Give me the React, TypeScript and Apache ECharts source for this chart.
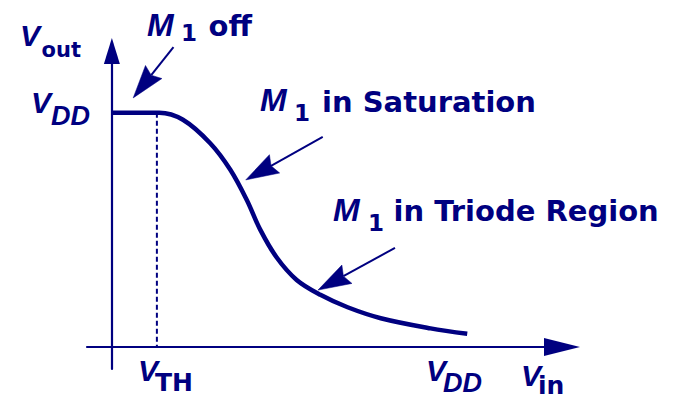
import React, { useEffect, useRef } from 'react';
import * as echarts from 'echarts';

const NAVY = '#000080';

// Transfer characteristic of the common-source stage (arbitrary volts)
const VDD = 3.0;
const VTH = 0.38;
const vinValues = [0, 0.4, 0.6, 0.83, 1.0, 1.14, 1.25, 1.39, 1.56, 1.76, 1.99, 2.27, 2.69, 3.0];
const voutValues = [3.0, 3.0, 2.91, 2.61, 2.27, 1.88, 1.51, 1.15, 0.86, 0.67, 0.51, 0.37, 0.24, 0.17];

// Axis extents (value units)
const xRange = [-0.21, 3.8];
const yRange = [-0.28, 3.79];

// Annotation arrows (value units): tail -> tip
const arrowTails = [[0.52, 3.84], [1.78, 2.69], [2.39, 1.27]];
const arrowTips = [[0.18, 3.19], [1.13, 2.14], [1.74, 0.73]];

// Texts
const deviceName = 'M';
const deviceIndex = '1';
const regionLabels = ['off', 'in Saturation', 'in Triode Region'];
const axisNames = ['out', 'in'];
const tickSubscripts = ['TH', 'DD'];
const voltSymbol = 'V';

const ITALIC = 'italic bold 30px "Liberation Sans"';
const MFONT = 'italic bold 32px "Liberation Sans"';
const SUB = 'bold 23px "DejaVu Sans"';
const TXT = 'bold 29px "DejaVu Sans"';
const DDFONT = 'italic bold 27px "Liberation Sans"';

function txt(text: string, x: number, y: number, font: string) {
  return {
    type: 'text',
    x,
    y,
    silent: true,
    style: { text, font, fill: NAVY, align: 'left', verticalAlign: 'middle' },
  };
}

function arrowGraphic(tail: number[], tip: number[]) {
  const L = 33;
  const W = 21;
  const notch = 4;
  const dx = tip[0] - tail[0];
  const dy = tip[1] - tail[1];
  const len = Math.sqrt(dx * dx + dy * dy) || 1;
  const ux = dx / len;
  const uy = dy / len;
  const nx = -uy;
  const ny = ux;
  const bx = tip[0] - ux * L;
  const by = tip[1] - uy * L;
  const mx = tip[0] - ux * (L - notch);
  const my = tip[1] - uy * (L - notch);
  return [
    {
      type: 'line',
      silent: true,
      shape: { x1: tail[0], y1: tail[1], x2: mx, y2: my },
      style: { stroke: NAVY, lineWidth: 2 },
    },
    {
      type: 'polygon',
      silent: true,
      shape: {
        points: [
          [tip[0], tip[1]],
          [bx + (nx * W) / 2, by + (ny * W) / 2],
          [mx, my],
          [bx - (nx * W) / 2, by - (ny * W) / 2],
        ],
      },
      style: { fill: NAVY, stroke: NAVY, lineWidth: 0.5 },
    },
  ];
}

export default function App() {
  const ref = useRef<HTMLDivElement>(null);
  useEffect(() => {
    document.body.style.margin = '0';
    if (!ref.current) return;
    const chart = echarts.init(ref.current, undefined, { renderer: 'svg' });
    const texts = [
      // V_out
      txt(voltSymbol, 20, 35.6, ITALIC),
      txt(axisNames[0], 41.5, 50, 'bold 21px "DejaVu Sans"'),
      // V_DD (y axis)
      txt(voltSymbol, 31, 102, ITALIC),
      txt(tickSubscripts[1], 51, 116, DDFONT),
      // M1 off
      txt(deviceName, 147, 25, MFONT),
      txt(deviceIndex, 181, 33.4, SUB),
      txt(regionLabels[0], 208.5, 26, TXT),
      // M1 in Saturation
      txt(deviceName, 260, 100.4, MFONT),
      txt(deviceIndex, 294, 112.9, SUB),
      txt(regionLabels[1], 322, 101.5, TXT),
      // M1 in Triode Region
      txt(deviceName, 333, 210, MFONT),
      txt(deviceIndex, 368, 223.4, SUB),
      txt(regionLabels[2], 393.5, 211, TXT),
      // V_TH
      txt(voltSymbol, 138, 370.6, ITALIC),
      txt(tickSubscripts[0], 155, 382.3, 'bold 25px "DejaVu Sans"'),
      // V_DD (x axis)
      txt(voltSymbol, 426, 370.6, ITALIC),
      txt(tickSubscripts[1], 443, 383, DDFONT),
      // V_in
      txt(voltSymbol, 521, 375.6, ITALIC),
      txt(axisNames[1], 538, 385.5, 'bold 25px "DejaVu Sans"'),
    ];
    chart.setOption({
      animation: false,
      grid: { left: 87, right: 113, top: 51, bottom: 32, containLabel: false },
      xAxis: {
        type: 'value',
        min: xRange[0],
        max: xRange[1],
        axisLine: {
          show: true,
          onZero: true,
          symbol: ['none', 'triangle'],
          symbolSize: [18, 36],
          lineStyle: { color: NAVY, width: 2.2 },
        },
        axisTick: { show: false },
        axisLabel: { show: false },
        splitLine: { show: false },
      },
      yAxis: {
        type: 'value',
        min: yRange[0],
        max: yRange[1],
        axisLine: {
          show: true,
          onZero: true,
          symbol: ['none', 'triangle'],
          symbolSize: [16, 26],
          lineStyle: { color: NAVY, width: 2.2 },
        },
        axisTick: { show: false },
        axisLabel: { show: false },
        splitLine: { show: false },
      },
      series: [
        {
          type: 'line',
          data: vinValues.map((v, i) => [v, voutValues[i]]),
          smooth: 0.35,
          showSymbol: false,
          silent: true,
          z: 3,
          lineStyle: { color: NAVY, width: 4.5 },
        },
        {
          type: 'line',
          data: [
            [VTH, VDD],
            [VTH, 0],
          ],
          showSymbol: false,
          silent: true,
          lineStyle: { color: NAVY, width: 2, type: [5, 3] },
        },
      ],
      graphic: texts,
    });
    const arrows: any[] = [];
    arrowTails.forEach((t, i) => {
      const a = chart.convertToPixel({ gridIndex: 0 }, t) as number[];
      const b = chart.convertToPixel({ gridIndex: 0 }, arrowTips[i]) as number[];
      arrows.push(...arrowGraphic(a, b));
    });
    chart.setOption({ graphic: [...texts, ...arrows] });
    return () => chart.dispose();
  }, []);
  return <div ref={ref} style={{ width: 675, height: 401 }} />;
}
